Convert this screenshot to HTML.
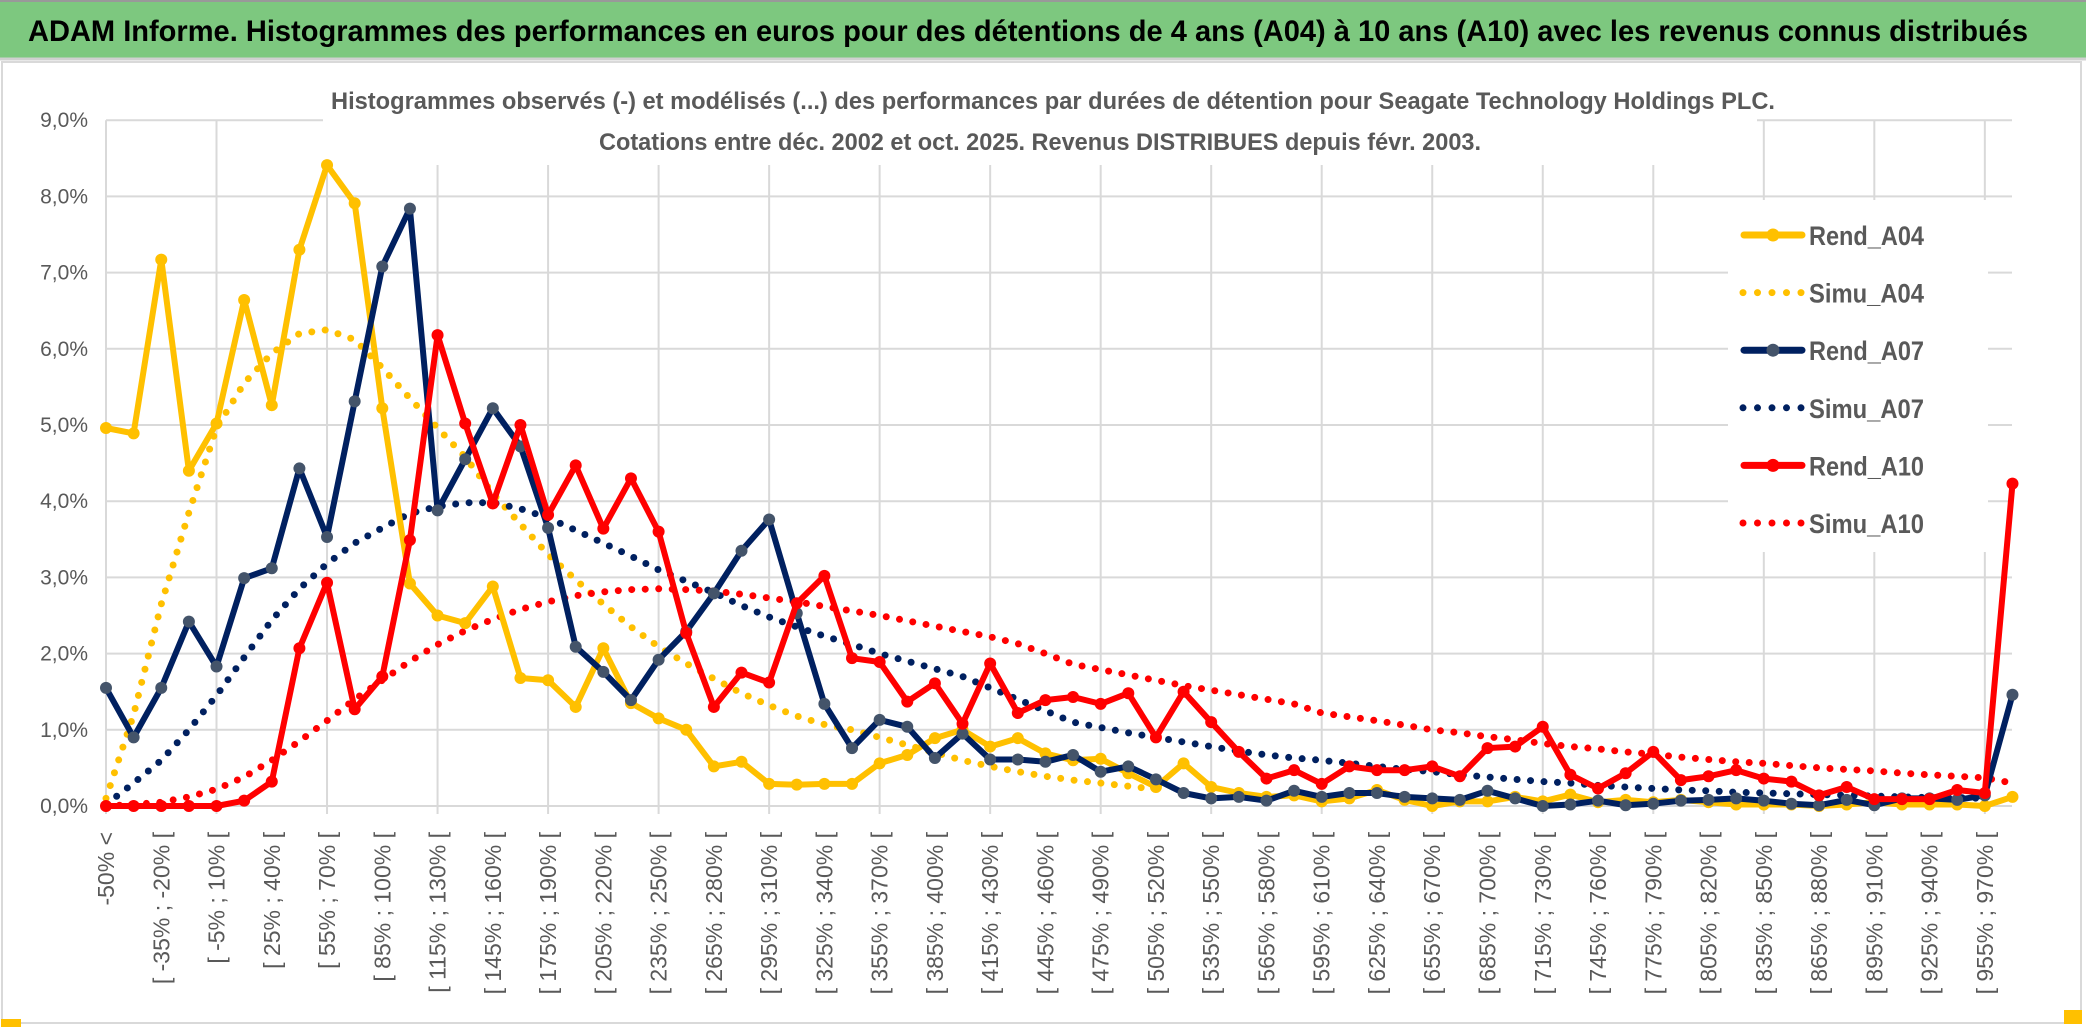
<!DOCTYPE html>
<html><head><meta charset="utf-8"><style>
html,body{margin:0;padding:0;background:#fff;}
svg{display:block;font-family:"Liberation Sans",sans-serif;}
</style></head><body>
<svg id="chart" width="2086" height="1033" viewBox="0 0 2086 1033" xmlns="http://www.w3.org/2000/svg">
<rect x="0" y="0" width="2086" height="1033" fill="#fff"/>
<rect x="0" y="2" width="2086" height="56" fill="#7dc87f"/>
<line x1="0" y1="1" x2="2086" y2="1" stroke="#999" stroke-width="2"/>
<line x1="0" y1="59" x2="2086" y2="59" stroke="#d0d0d0" stroke-width="3"/>
<text x="28" y="41" font-size="30" font-weight="bold" fill="#000" textLength="2000" lengthAdjust="spacingAndGlyphs">ADAM Informe. Histogrammes des performances en euros pour des détentions de 4 ans (A04) à 10 ans (A10) avec les revenus connus distribués</text>
<rect x="2" y="62" width="2079" height="961" fill="none" stroke="#d9d9d9" stroke-width="2"/>
<rect x="1" y="1019" width="20" height="8" fill="#ffc000"/>
<rect x="2064" y="1010" width="18" height="14" fill="#ffc000"/>
<g id="grid"></g>
<rect x="323" y="70" width="1434" height="95" fill="#fff"/>
<text x="1053" y="109" font-size="24" font-weight="bold" fill="#595959" text-anchor="middle" textLength="1444" lengthAdjust="spacingAndGlyphs">Histogrammes observés (-) et modélisés (...) des performances par durées de détention pour Seagate Technology Holdings PLC.</text>
<text x="1040" y="150" font-size="24" font-weight="bold" fill="#595959" text-anchor="middle" textLength="882" lengthAdjust="spacingAndGlyphs">Cotations entre déc. 2002 et oct. 2025. Revenus DISTRIBUES depuis févr. 2003.</text>
<rect x="1728" y="200" width="260" height="352" fill="#fff"/>
<g id="yaxis"></g>
<g id="xaxis"></g>
<g id="series"></g>
<g id="legend"></g>
</svg>
<script>
const categoryCount = 70;
const yTicks = ["0,0%","1,0%","2,0%","3,0%","4,0%","5,0%","6,0%","7,0%","8,0%","9,0%"];
const rendA04 = [4.96,4.89,7.17,4.4,5.02,6.64,5.26,7.3,8.41,7.91,5.22,2.92,2.5,2.4,2.88,1.68,1.65,1.3,2.07,1.35,1.15,1.0,0.52,0.58,0.29,0.28,0.29,0.29,0.56,0.67,0.89,1.0,0.78,0.89,0.69,0.6,0.62,0.43,0.25,0.56,0.25,0.17,0.12,0.14,0.06,0.1,0.21,0.08,0.0,0.06,0.06,0.12,0.06,0.15,0.05,0.08,0.05,0.08,0.05,0.02,0.02,0.02,0.0,0.02,0.05,0.02,0.02,0.02,0.0,0.12];
const simuA04 = [0.1,1.2,2.65,3.85,4.96,5.55,5.94,6.2,6.25,6.12,5.75,5.35,4.96,4.58,4.1,3.7,3.3,2.97,2.65,2.35,2.09,1.87,1.67,1.48,1.32,1.18,1.07,1.0,0.9,0.8,0.7,0.6,0.52,0.45,0.39,0.34,0.3,0.26,0.22,null,null,null,null,null,null,null,null,null,null,null,null,null,null,null,null,null,null,null,null,null,null,null,null,null,null,null,null,null,null,null];
const rendA07 = [1.55,0.9,1.55,2.42,1.83,2.99,3.12,4.43,3.53,5.31,7.08,7.84,3.88,4.55,5.22,4.72,3.65,2.09,1.76,1.39,1.92,2.29,2.79,3.35,3.76,2.53,1.34,0.76,1.13,1.04,0.63,0.95,0.61,0.61,0.58,0.67,0.45,0.52,0.35,0.17,0.1,0.12,0.07,0.2,0.12,0.17,0.17,0.12,0.1,0.08,0.2,0.1,0.0,0.02,0.07,0.01,0.03,0.07,0.08,0.1,0.07,0.03,0.01,0.08,0.01,0.1,0.1,0.08,0.14,1.46];
const simuA07 = [0.02,0.3,0.6,1.0,1.45,1.95,2.44,2.85,3.18,3.45,3.65,3.84,3.93,3.98,3.98,3.9,3.78,3.62,3.45,3.28,3.1,2.95,2.8,2.63,2.48,2.35,2.23,2.12,2.0,1.9,1.8,1.7,1.55,1.4,1.25,1.1,1.03,0.96,0.9,0.84,0.78,0.72,0.67,0.63,0.6,0.56,0.52,0.48,0.45,0.41,0.38,0.35,0.32,0.3,0.27,0.25,0.23,0.21,0.2,0.18,0.17,0.16,0.15,0.14,0.13,0.12,0.11,0.11,0.1,null];
const rendA10 = [0,0,0,0,0,0.07,0.32,2.07,2.93,1.27,1.7,3.49,6.18,5.02,3.97,5.0,3.82,4.47,3.64,4.3,3.6,2.27,1.3,1.75,1.62,2.66,3.02,1.94,1.89,1.37,1.61,1.08,1.87,1.22,1.39,1.43,1.34,1.48,0.9,1.5,1.1,0.71,0.36,0.47,0.29,0.52,0.47,0.47,0.52,0.39,0.76,0.78,1.04,0.41,0.23,0.43,0.71,0.34,0.39,0.47,0.36,0.32,0.14,0.25,0.09,0.09,0.09,0.21,0.17,4.23];
const simuA10 = [0.0,0.02,0.05,0.12,0.22,0.38,0.6,0.85,1.12,1.4,1.65,1.9,2.12,2.3,2.45,2.58,2.68,2.76,2.81,2.84,2.85,2.84,2.82,2.78,2.73,2.68,2.62,2.56,2.5,2.43,2.36,2.29,2.22,2.13,2.0,1.86,1.79,1.72,1.65,1.58,1.52,1.46,1.4,1.34,1.22,1.17,1.12,1.06,1.0,0.96,0.91,0.87,0.82,0.78,0.75,0.71,0.68,0.64,0.61,0.58,0.56,0.53,0.5,0.48,0.46,0.43,0.41,0.39,0.37,0.3];

const NS="http://www.w3.org/2000/svg";
const X0=106, DX=27.63, Y0=806, DY=76.2, XR=2012;
function xs(i){return X0+i*DX;}
function ys(v){return Y0-v*DY;}
function mk(tag,attrs,parent){const e=document.createElementNS(NS,tag);for(const k in attrs)e.setAttribute(k,attrs[k]);parent.appendChild(e);return e;}
function catLabel(i){ if(i===0) return "-50% <"; const a=-50+15*(i-1); return "[ "+a+"% ; "+(a+15)+"% ["; }

const grid=document.getElementById('grid');
for(let t=0;t<yTicks.length;t++){
  const l=mk('line',{x1:X0,x2:XR,y1:ys(t),y2:ys(t),stroke:'#d9d9d9','stroke-width':2},grid);
  
  
}
for(let i=0;i<categoryCount;i+=4){
  const l=mk('line',{x1:xs(i),x2:xs(i),y1:ys(9),y2:Y0+8,stroke:'#d9d9d9','stroke-width':2},grid);
  
  
}
const ya=document.getElementById('yaxis');
yTicks.forEach((lab,t)=>{
  const e=mk('text',{x:88,y:ys(t)+7,'font-size':21,fill:'#595959','text-anchor':'end'},ya);
  e.textContent=lab;
  
  
});
const xa=document.getElementById('xaxis');
for(let i=0;i<categoryCount;i+=2){
  const x=xs(i)+8, y=832;
  const e=mk('text',{x:x,y:y,'font-size':23,fill:'#595959','text-anchor':'end',transform:'rotate(-90 '+x+' '+y+')'},xa);
  e.textContent=catLabel(i);
  
  
}
const sg=document.getElementById('series');
function pathFor(arr){let d='',pen=false;arr.forEach((v,i)=>{if(v===null){pen=false;return;}d+=(pen?'L':'M')+xs(i).toFixed(1)+' '+ys(v).toFixed(1)+' ';pen=true;});return d;}
function dotted(arr,color,name){
  const p=mk('path',{d:pathFor(arr),fill:'none',stroke:color,'stroke-width':7,'stroke-linecap':'round','stroke-dasharray':'0 13.5'},sg);
  
  
}
function solid(arr,color,mcolor,name){
  const p=mk('path',{d:pathFor(arr),fill:'none',stroke:color,'stroke-width':6,'stroke-linejoin':'round'},sg);
  
  
  arr.forEach((v,i)=>{ if(v===null) return;
    const c=mk('circle',{cx:xs(i),cy:ys(v),r:6,fill:mcolor},sg);
    
    
  });
}
dotted(simuA04,'#ffc000','simu-a04-line');
dotted(simuA07,'#002060','simu-a07-line');
dotted(simuA10,'#ff0000','simu-a10-line');
solid(rendA04,'#ffc000','#ffc000','rend-a04-line');
solid(rendA07,'#002060','#44546a','rend-a07-line');
solid(rendA10,'#ff0000','#ff0000','rend-a10-line');

const lg=document.getElementById('legend');
const legendItems=[["Rend_A04","#ffc000","#ffc000",false],["Simu_A04","#ffc000",null,true],["Rend_A07","#002060","#44546a",false],["Simu_A07","#002060",null,true],["Rend_A10","#ff0000","#ff0000",false],["Simu_A10","#ff0000",null,true]];
legendItems.forEach((it,k)=>{
  const y=235+k*57.6;
  const g=mk('g',{},lg);
  
  
  if(it[3]){
    mk('line',{x1:1743,x2:1803,y1:y,y2:y,stroke:it[1],'stroke-width':7,'stroke-linecap':'round','stroke-dasharray':'0 14.5'},g);
  } else {
    mk('line',{x1:1744,x2:1802,y1:y,y2:y,stroke:it[1],'stroke-width':7,'stroke-linecap':'round'},g);
    mk('circle',{cx:1773,cy:y,r:6.5,fill:it[2]},g);
  }
  const t=mk('text',{x:1809,y:y+10,'font-size':27,'font-weight':'bold',fill:'#595959',textLength:115,lengthAdjust:'spacingAndGlyphs'},g);
  t.textContent=it[0];
});
</script>
</body></html>
